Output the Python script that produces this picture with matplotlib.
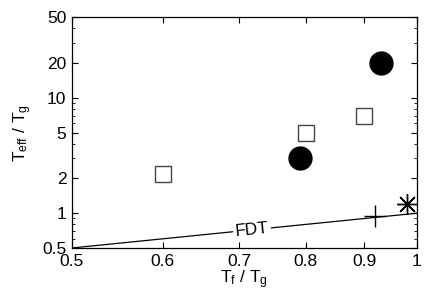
import matplotlib
matplotlib.use("Agg")
import matplotlib.pyplot as plt
from matplotlib.ticker import FixedLocator, FixedFormatter, NullLocator, LogLocator, NullFormatter

plt.rcParams['font.family'] = ['Liberation Sans', 'DejaVu Sans']
plt.rcParams['mathtext.fontset'] = 'custom'
plt.rcParams['mathtext.rm'] = 'Liberation Sans'
plt.rcParams['mathtext.it'] = 'Liberation Sans'

# data
sq_x = [0.6, 0.8, 0.9]
sq_y = [2.2, 5.0, 7.0]
circ_x = [0.79, 0.93]
circ_y = [3.0, 20.0]
plus_x = [0.92]
plus_y = [0.94]
star_x = [0.98]
star_y = [1.2]
fdt_x = [0.5, 1.0]
fdt_y = [0.5, 1.0]
xticks = [0.5, 0.6, 0.7, 0.8, 0.9, 1.0]
xticklabels = ['0.5', '0.6', '0.7', '0.8', '0.9', '1']
yticks = [0.5, 1, 2, 5, 10, 20, 50]
yticklabels = ['0.5', '1', '2', '5', '10', '20', '50']

fig = plt.figure(figsize=(4.36, 3.05), dpi=100)
ax = fig.add_axes([0.165, 0.187, 0.791, 0.757])

ax.plot(fdt_x, fdt_y, color='black', lw=0.9)
ax.plot(sq_x, sq_y, linestyle='none', marker='s', ms=12, mfc='white', mec='#444444', mew=1.0)
ax.plot(circ_x, circ_y, linestyle='none', marker='o', ms=16.5, mfc='black', mec='black')
ax.plot(plus_x, plus_y, linestyle='none', marker='+', ms=16, mec='black', mew=1.0)
ax.plot(star_x, star_y, linestyle='none', marker=(8, 2, 0), ms=15, mec='black', mew=1.0)

ax.text(0.718, 0.718, 'FDT', rotation=5.8, rotation_mode='anchor', ha='center', va='center',
        fontsize=12.5, bbox=dict(facecolor='white', edgecolor='none', pad=1.5))

ax.set_xscale('log')
ax.set_yscale('log')
ax.set_xlim(0.5, 1.0)
ax.set_ylim(0.5, 50)

ax.xaxis.set_major_locator(FixedLocator(xticks))
ax.xaxis.set_major_formatter(FixedFormatter(xticklabels))
ax.xaxis.set_minor_locator(NullLocator())
ax.yaxis.set_major_locator(FixedLocator(yticks))
ax.yaxis.set_major_formatter(FixedFormatter(yticklabels))
ax.yaxis.set_minor_locator(LogLocator(base=10, subs=range(1, 10)))
ax.yaxis.set_minor_formatter(NullFormatter())

ax.tick_params(which='both', direction='in', top=True, right=True, labelsize=12.5)
ax.tick_params(axis='y', pad=4)
ax.tick_params(axis='x', pad=4)
ax.tick_params(which='major', length=4, width=0.8)
ax.tick_params(which='minor', length=2, width=0.6)
for s in ax.spines.values():
    s.set_linewidth(0.9)

ax.set_xlabel(r'$\mathrm{T_f}$ / $\mathrm{T_g}$', fontsize=12.5, labelpad=0)
ax.set_ylabel(r'$\mathrm{T_{eff}}$ / $\mathrm{T_g}$', fontsize=12.5, labelpad=6)

fig.savefig('out.png', dpi=100)
